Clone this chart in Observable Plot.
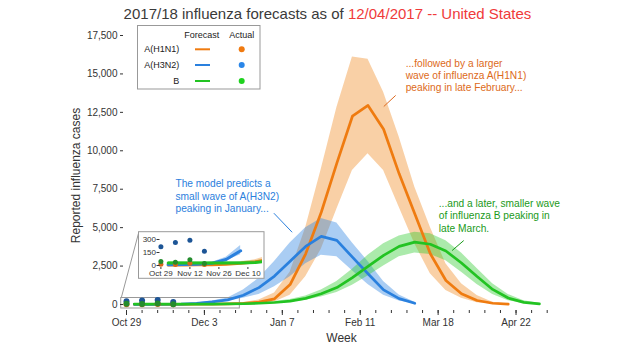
<!DOCTYPE html>
<html><head><meta charset="utf-8">
<script src="https://cdn.jsdelivr.net/npm/d3@7"></script>
<script src="https://cdn.jsdelivr.net/npm/@observablehq/plot@0.6"></script>
<style>
body{margin:0;background:#fff;font-family:Arial,"Liberation Sans",sans-serif;}
#title{width:620px;height:24px;box-sizing:border-box;padding-top:3px;padding-left:35px;line-height:21px;font-size:15px;color:#3a3a3a;text-align:center;white-space:nowrap;}
#title .red{color:#f03a3a;}
</style></head><body>
<div id="title">2017/18 influenza forecasts as of <span class="red">12/04/2017 -- United States</span></div>
<div id="chart"></div>
<script>
// ---------- data ----------
const viruses = ["A(H1N1)", "A(H3N2)", "B"];
const forecastWeeks = ["2017-11-01T12:00Z","2017-11-08T12:00Z","2017-11-15T12:00Z","2017-11-22T12:00Z","2017-11-29T12:00Z","2017-12-06T12:00Z","2017-12-13T12:00Z","2017-12-20T12:00Z","2017-12-27T12:00Z","2018-01-03T12:00Z","2018-01-10T12:00Z","2018-01-17T12:00Z","2018-01-24T12:00Z","2018-01-31T12:00Z","2018-02-07T12:00Z","2018-02-14T12:00Z","2018-02-21T12:00Z","2018-02-28T12:00Z","2018-03-07T12:00Z","2018-03-14T12:00Z","2018-03-21T12:00Z","2018-03-28T12:00Z","2018-04-04T12:00Z","2018-04-11T12:00Z","2018-04-18T12:00Z","2018-04-25T12:00Z","2018-05-02T12:00Z"];
const actualWeeks = ["2017-10-29", "2017-11-05", "2017-11-12", "2017-11-19"];

const h1n1Forecast = [5,5,8,10,15,25,40,70,150,370,1300,3300,6000,9200,12250,12950,11400,8500,5900,3300,1560,700,260,80,20];
const h1n1Lower    = [2,2,4,5,8,14,22,40,70,170,600,1800,3600,6200,8720,9810,8720,6330,3950,2000,910,400,120,30,8];
const h1n1Upper    = [8,9,13,17,25,40,65,120,300,750,2100,5000,8800,12800,16100,15950,13800,10900,7640,5030,2650,1350,590,150,40];
const h1n1Actual   = [15,12,25,12];

const h3n2Forecast = [10,12,15,25,70,170,300,600,1100,1850,2820,3780,4430,4170,3080,2000,950,380,80];
const h3n2Lower    = [6,8,10,18,55,125,210,400,650,1150,1800,2650,3200,3100,2200,1300,600,230,50];
const h3n2Upper    = [14,17,22,35,95,230,430,950,1700,2800,4000,5000,5600,5300,4000,2800,1500,620,150];
const h3n2Actual   = [215,265,290,165];

const bForecast = [30,30,28,28,30,30,35,50,80,130,220,400,700,1100,1750,2480,3200,3780,4060,3920,3480,2700,1820,980,420,140,40];
const bLower    = [15,15,15,15,15,15,18,30,50,85,150,270,480,780,1250,1850,2500,3100,3350,3250,2850,2100,1300,650,250,70,15];
const bUpper    = [45,45,42,42,45,45,55,75,120,190,320,560,950,1500,2300,3200,3950,4450,4700,4600,4150,3350,2350,1350,650,250,80];
const bActual   = [45,38,65,22];

const yTicks = [0,2500,5000,7500,10000,12500,15000,17500];
const majorTicks = ["2017-10-29","2017-12-03","2018-01-07","2018-02-11","2018-03-18","2018-04-22"];
const insetXTicks = ["2017-10-29","2017-11-12","2017-11-26","2017-12-10"];
const insetYTicks = [0,150,300];

const noteTexts = [
  "...followed by a larger\nwave of influenza A(H1N1)\npeaking in late February...",
  "The model predicts a\nsmall wave of A(H3N2)\npeaking in January...",
  "...and a later, smaller wave\nof influenza B peaking in\nlate March."
];
const noteAnchors = [["2018-03-03T10:00Z",14930],["2017-11-20T00:00Z",7090],["2018-03-18T07:00Z",5790]];
const leaderLines = [
  ["2018-02-26T22:00Z",13600,"2018-02-21T14:00Z",12880],
  ["2018-01-03T05:00Z",5940,"2018-01-11T10:00Z",4700],
  ["2018-03-29T12:00Z",4160,"2018-03-24T07:00Z",3510]
];
const zoomBox = {x1:"2017-10-26T15:00Z", x2:"2017-12-18T22:00Z", y1:-260, y2:423};
const connector = {x1:"2017-11-03T12:40Z", y1:4704, x2:"2017-10-26T15:00Z", y2:423};

// ---------- styles ----------
const FONT = "Arial, 'Liberation Sans', sans-serif";
const lineColor = {"A(H1N1)":"#ef7b10","A(H3N2)":"#2a80de","B":"#22c322"};
const bandColor = {"A(H1N1)":"#f08a20","A(H3N2)":"#2a82e0","B":"#2ecb2e"};
const dotColor  = {"A(H1N1)":"#d8661a","A(H3N2)":"#1d5596","B":"#238c2c"};
const legendDot = {"A(H1N1)":"#f07a10","A(H3N2)":"#2a86e8","B":"#1ed21e"};
const noteColor = ["#dd6a20","#2b80dd","#1a9a1a"];

// ---------- tables ----------
const series = [
  {name:"A(H1N1)", f:h1n1Forecast, lo:h1n1Lower, hi:h1n1Upper, a:h1n1Actual},
  {name:"A(H3N2)", f:h3n2Forecast, lo:h3n2Lower, hi:h3n2Upper, a:h3n2Actual},
  {name:"B",       f:bForecast,    lo:bLower,    hi:bUpper,    a:bActual}
];
const rows = [], actualRows = [];
series.forEach(s => {
  s.f.forEach((v,i) => rows.push({virus:s.name, date:new Date(forecastWeeks[i]), value:v, lo:s.lo[i], hi:s.hi[i]}));
  s.a.forEach((v,i) => actualRows.push({virus:s.name, date:new Date(actualWeeks[i]), value:v}));
});
const byV = (arr, v) => arr.filter(d => d.virus === v);
const D = s => new Date(s);
const minorTicks = d3.utcWeek.range(D("2017-10-29"), D("2018-05-07"));

const main = Plot.plot({
  width:620, height:326, marginLeft:123, marginRight:64, marginTop:11, marginBottom:40,
  x:{type:"utc", domain:[D("2017-10-29"), D("2018-05-06")], range:[126,546.7]},
  y:{domain:[0,17500], range:[280,11]},
  style:{fontFamily:FONT, fontSize:"10px", color:"#333", background:"white"},
  marks:[
    ...viruses.map(v => Plot.areaY(byV(rows,v), {x:"date", y1:"lo", y2:"hi", fill:bandColor[v], fillOpacity:0.4})),
    Plot.rect([zoomBox], {x1:d=>D(d.x1), x2:d=>D(d.x2), y1:"y1", y2:"y2", fill:"none", stroke:"#999", strokeWidth:1}),
    Plot.link([connector], {x1:d=>D(d.x1), y1:"y1", x2:d=>D(d.x2), y2:"y2", stroke:"#999", strokeWidth:1}),
    ...viruses.map(v => Plot.lineY(byV(rows,v), {x:"date", y:"value", stroke:lineColor[v], strokeWidth:2.7})),
    ...viruses.map(v => Plot.dot(byV(actualRows,v), {x:"date", y:"value", r:3, fill:dotColor[v]})),
    Plot.axisY({ticks:yTicks, tickFormat:d3.format(","), tickSize:3, tickPadding:3, label:null}),
    Plot.axisX({ticks:minorTicks, tickSize:3, tickFormat:()=>"", label:null}),
    Plot.axisX({ticks:majorTicks.map(D), tickSize:5, tickPadding:3, tickFormat:d3.utcFormat("%b %-d"), label:null}),
    Plot.text(["Week"], {frameAnchor:"bottom", dx:1.5, dy:28, lineAnchor:"middle", textAnchor:"middle", fontSize:12, fill:"#333"}),
    Plot.text(["Reported influenza cases"], {frameAnchor:"left", dx:-47, dy:2.5, rotate:-90, textAnchor:"middle", lineAnchor:"middle", fontSize:12, fill:"#333"}),
    ...noteTexts.map((t,i) => Plot.text([t], {x:()=>D(noteAnchors[i][0]), y:()=>noteAnchors[i][1], text:d=>d, textAnchor:"start", lineAnchor:"middle", fontSize:10.2, lineHeight:1.225, fill:noteColor[i]})),
    ...leaderLines.map((l,i) => Plot.link([l], {x1:d=>D(d[0]), y1:d=>d[1], x2:d=>D(d[2]), y2:d=>d[3], stroke:noteColor[i], strokeWidth:1}))
  ]
});

// ---------- legend ----------
const svg = d3.select(main);
const lg = svg.append("g").attr("font-family", FONT).attr("font-size", 9).attr("fill", "#222");
lg.append("rect").attr("x",137.5).attr("y",1.5).attr("width",122.5).attr("height",63.5).attr("fill","white").attr("stroke","#999");
lg.append("text").attr("x",201.7).attr("y",11).attr("dy","0.35em").attr("text-anchor","middle").text("Forecast");
lg.append("text").attr("x",241.7).attr("y",11).attr("dy","0.35em").attr("text-anchor","middle").text("Actual");
viruses.forEach((v,i) => {
  const y = [25.3,41,57][i];
  lg.append("text").attr("x",179.3).attr("y",y).attr("dy","0.35em").attr("text-anchor","end").text(v);
  lg.append("line").attr("x1",195).attr("x2",210).attr("y1",y).attr("y2",y).attr("stroke",lineColor[v]).attr("stroke-width",2);
  lg.append("circle").attr("cx",241.7).attr("cy",y).attr("r",3).attr("fill",legendDot[v]);
});

// ---------- inset ----------
svg.append("rect").attr("x",138.5).attr("y",207.7).attr("width",125.5).attr("height",46.6).attr("fill","white").attr("stroke","#999");
const insetRows = rows.filter(d => d.date <= D("2017-12-21") && d.value <= 250);
const insetBand = rows.filter(d => d.date <= D("2017-12-21") && d.hi <= 250);
const inset = Plot.plot({
  width:126, height:47, marginLeft:21.5, marginRight:2, marginTop:2, marginBottom:11,
  x:{type:"utc", domain:[D("2017-10-29"), D("2017-12-10")], range:[22.4,109.4]},
  y:{domain:[0,300], range:[34,8]},
  style:{fontFamily:FONT, fontSize:"8px", color:"#333", background:"transparent"},
  marks:[
    ...viruses.map(v => Plot.areaY(byV(insetBand,v), {x:"date", y1:"lo", y2:"hi", fill:bandColor[v], fillOpacity:0.4, clip:true})),
    ...viruses.map(v => Plot.lineY(byV(insetRows,v), {x:"date", y:"value", stroke:lineColor[v], strokeWidth:3, clip:true})),
    ...viruses.map(v => Plot.dot(byV(actualRows,v), {x:"date", y:"value", r:2.5, fill:dotColor[v]})),
    Plot.axisY({ticks:insetYTicks, tickSize:3, tickPadding:1, label:null, fontSize:8}),
    Plot.axisX({ticks:insetXTicks.map(D), tickSize:2, tickPadding:1, tickFormat:d3.utcFormat("%b %d"), label:null, fontSize:8})
  ]
});
inset.setAttribute("x", 138);
inset.setAttribute("y", 207);
inset.style.width = "126px";
inset.style.height = "47px";
inset.style.maxWidth = "none";
main.appendChild(inset);

document.getElementById("chart").appendChild(main);
</script>
</body></html>
